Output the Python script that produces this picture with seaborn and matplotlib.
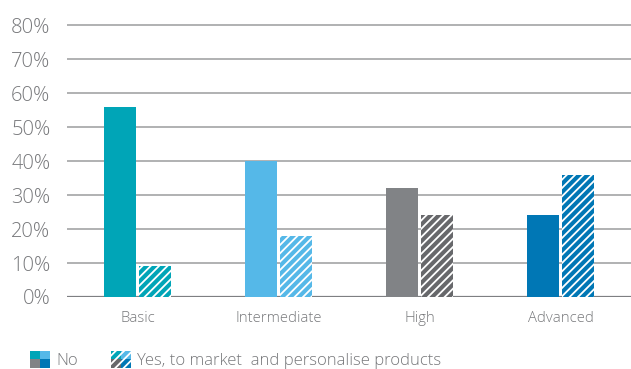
import matplotlib
matplotlib.use("Agg")
import matplotlib.pyplot as plt
from matplotlib.legend_handler import HandlerBase
from matplotlib.patches import Rectangle
from matplotlib.ticker import FuncFormatter
import seaborn as sns
import pandas as pd

# Survey shares by data-analytics maturity level
levels = ["Basic", "Intermediate", "High", "Advanced"]
no_share = [56, 40, 32, 24]
yes_share = [9, 18, 24, 36]
responses = ["No", "Yes, to market  and personalise products"]
y_ticks = [0, 10, 20, 30, 40, 50, 60, 70, 80]

no_colors = ["#00A5B7", "#55B8E8", "#818386", "#0077B5"]
yes_colors = ["#00A5B7", "#55B8E8", "#67686B", "#0077B5"]

df = pd.DataFrame({
    "level": levels * 2,
    "share": no_share + yes_share,
    "response": [responses[0]] * len(levels) + [responses[1]] * len(levels),
})

sns.set_theme(style="white")
plt.rcParams["font.family"] = ["Open Sans", "DejaVu Sans"]
plt.rcParams["hatch.linewidth"] = 1.3

TEXT = "#77787B"

fig = plt.figure(figsize=(6.31, 3.69), dpi=100)
ax = fig.add_axes([67 / 631, (369 - 297) / 369, 1 - 67 / 631, (297 - 23) / 369])

sns.barplot(data=df, x="level", y="share", hue="response", order=levels,
            hue_order=responses, width=0.5, gap=0.1, legend=False,
            errorbar=None, ax=ax, zorder=3)

# Recolour each bar by its maturity level; hatch the "Yes" bars in white
n = len(levels)
for i, patch in enumerate(ax.patches[:2 * n]):
    k = i % n
    if i < n:
        patch.set_facecolor(no_colors[k])
        patch.set_edgecolor(no_colors[k])
    else:
        patch.set_facecolor(yes_colors[k])
        patch.set_edgecolor("white")
        patch.set_hatch("////")
    patch.set_linewidth(0)

ax.set_ylim(0, 80.6)
ax.set_xlim(-0.5, n - 0.5)
ax.set_yticks(y_ticks)
ax.yaxis.set_major_formatter(FuncFormatter(lambda v, _: f"{v:.0f}%"))
for y in y_ticks:
    ax.axhline(y, color="#7E7F82" if y == 0 else "#A3A4A6",
               lw=1.6 if y == 0 else 1.2, zorder=1)

for s in ax.spines.values():
    s.set_visible(False)
ax.set_xlabel("")
ax.set_ylabel("")
ax.tick_params(axis="y", length=0, pad=12, labelsize=14.5, labelcolor=TEXT)
ax.tick_params(axis="x", length=0, pad=10, labelsize=10.7, labelcolor=TEXT)
for lab in ax.get_yticklabels() + ax.get_xticklabels():
    lab.set_fontweight("light")


class SquaresHandler(HandlerBase):
    """Legend key made of a 2x2 block of coloured squares."""

    def __init__(self, colors, hatch=None):
        super().__init__()
        self.colors = colors
        self.hatch = hatch

    def create_artists(self, legend, orig_handle, xdescent, ydescent,
                       width, height, fontsize, trans):
        arts = []
        w, h = width / 2, height / 2
        cells = [(0, 1), (1, 1), (0, 0), (1, 0)]
        for (cx, cy), c in zip(cells, self.colors):
            r = Rectangle((-xdescent + cx * w, -ydescent + cy * h), w, h,
                          facecolor=c, edgecolor="white" if self.hatch else c,
                          lw=0, hatch=self.hatch, transform=trans)
            arts.append(r)
        return arts


key_no = Rectangle((0, 0), 1, 1)
key_yes = Rectangle((0, 0), 1, 1)
leg = fig.legend(
    [key_no, key_yes], responses,
    handler_map={
        key_no: SquaresHandler(no_colors),
        key_yes: SquaresHandler(yes_colors, hatch="////"),
    },
    loc="lower left", bbox_to_anchor=(30 / 631, 0.0), ncol=2, frameon=False,
    fontsize=12, handlelength=1.2, handleheight=1.2, handletextpad=0.36,
    columnspacing=2.0, borderpad=0, borderaxespad=0,
)
for t in leg.get_texts():
    t.set_color(TEXT)
    t.set_fontweight("light")

fig.savefig("out.png", dpi=100)
